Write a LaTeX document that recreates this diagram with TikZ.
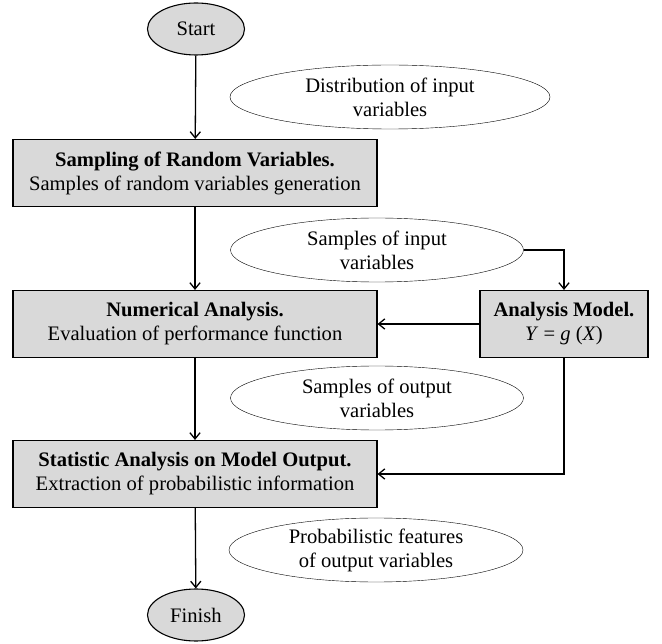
\documentclass[tikz,border=0pt]{standalone}
\usepackage{fontspec}
\setmainfont{Liberation Serif}
\usetikzlibrary{arrows.meta, shapes.geometric}

\begin{document}
\begin{tikzpicture}[
    x=1pt, y=-1pt,
    blk/.style={draw, line width=1.1pt, fill=gray!30, minimum width=#1, minimum height=67pt, align=center, inner sep=2pt},
    term/.style={draw, line width=1.1pt, fill=gray!30, ellipse, minimum width=97pt, minimum height=52pt, inner sep=0pt},
    info/.style={draw, ellipse, minimum width=#1, minimum height=64pt, align=center, inner sep=0pt},
    flow/.style={-{Straight Barb[length=2.2mm, width=3.6mm]}, line width=1.3pt},
    font=\fontsize{20.6}{24}\selectfont,
]
\useasboundingbox (0,0) rectangle (662,644);

% Terminals
\node[term] (start) at (196, 29) {Start};
\node[term] (fin) at (196, 615) {Finish};

% Process boxes
\node[blk=364pt] (samp) at (195, 173) {\textbf{Sampling of Random Variables.}\\Samples of random variables generation};
\node[blk=364pt] (num) at (195, 324) {\textbf{Numerical Analysis.}\\Evaluation of performance function};
\node[blk=364pt] (stat) at (195, 474) {\textbf{Statistic Analysis on Model Output.}\\Extraction of probabilistic information};
\node[blk=168pt] (model) at (564, 324) {\textbf{Analysis Model.}\\\textit{Y} = \textit{g} (\textit{X})};

% Data ellipses
\node[info=320pt] (dist) at (390, 97) {Distribution of input\\variables};
\node[info=293pt] (sin) at (377, 250) {Samples of input\\variables};
\node[info=293pt] (sout) at (377, 398) {Samples of output\\variables};
\node[info=294pt] (prob) at (376, 550) {Probabilistic features\\of output variables};

% Flow
\draw[flow] (start) -- (samp);
\draw[flow] (samp) -- (num);
\draw[flow] (num) -- (stat);
\draw[flow] (stat) -- (fin);
\draw[flow] (sin.east) -| (model.north);
\draw[flow] (model) -- (num);
\draw[flow] (model.south) |- (stat.east);

\end{tikzpicture}
\end{document}
